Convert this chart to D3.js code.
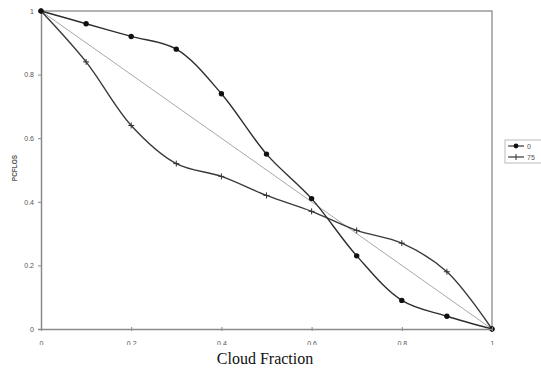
<!DOCTYPE html>
<html>
<head>
<meta charset="utf-8">
<script src="https://cdn.jsdelivr.net/npm/d3@7"></script>
<style>
  body { margin: 0; background: #fff; }
  .axis path, .axis line { stroke: #8a8a8a; }
  .axis text { fill: #555; font-family: Arial, "Liberation Sans", sans-serif; font-size: 7px; }
</style>
</head>
<body>
<div id="chart"></div>
<script>
// cloud fraction along x, PCFLOS for each series
var cloudFraction = [0, 0.1, 0.2, 0.3, 0.4, 0.5, 0.6, 0.7, 0.8, 0.9, 1];
var series0 = [1, 0.96, 0.92, 0.88, 0.74, 0.55, 0.41, 0.23, 0.09, 0.04, 0];
var series75 = [1, 0.84, 0.64, 0.52, 0.48, 0.42, 0.37, 0.31, 0.27, 0.18, 0];
var diagonal = [1, 0];
var xTicks = [0, 0.2, 0.4, 0.6, 0.8, 1];
var yTicks = [0, 0.2, 0.4, 0.6, 0.8, 1];
var seriesNames = ['0', '75'];

var W = 541, H = 372;
var margin = { top: 11, right: 49, bottom: 43, left: 41 },
  w = W - margin.left - margin.right,
  h = H - margin.top - margin.bottom;

var x = d3.scaleLinear().domain([0, 1]).range([0, w]);
var y = d3.scaleLinear().domain([0, 1]).range([h, 0]);
var fmt = function(d) { return d === 0 || d === 1 ? d : d3.format('.1f')(d); };

var root = d3.select('#chart').append('svg')
  .attr('width', W)
  .attr('height', H);

// x tick labels are cut off in the original scan
root.append('clipPath').attr('id', 'cut')
  .append('rect').attr('x', 0).attr('y', 0).attr('width', W).attr('height', 345);

var svg = root.append('g')
  .attr('transform', 'translate(' + margin.left + ',' + margin.top + ')');

// frame top and right
svg.append('path')
  .attr('d', 'M0,0H' + w + 'V' + h)
  .attr('fill', 'none')
  .attr('stroke', '#9a9a9a')
  .attr('stroke-width', 1.5);

// y axis
svg.append('g')
  .attr('class', 'axis')
  .call(d3.axisLeft(y).tickValues(yTicks).tickSize(3).tickPadding(4).tickFormat(fmt))
  .call(function(g) { g.select('.domain').attr('stroke-width', 1.5); });

// x axis, inside the clipped group
var xg = root.append('g')
  .attr('clip-path', 'url(#cut)')
  .append('g')
  .attr('class', 'axis')
  .attr('transform', 'translate(' + margin.left + ',' + (margin.top + h) + ')')
  .call(d3.axisBottom(x).tickValues(xTicks).tickSizeInner(3).tickSizeOuter(0).tickPadding(9).tickFormat(fmt));
xg.select('.domain').attr('stroke-width', 1.5);
xg.selectAll('.tick line').attr('y1', -2).attr('y2', 2);

// axis titles
svg.append('text')
  .attr('transform', 'translate(-24,' + (h / 2 - 2) + ') rotate(-90)')
  .attr('text-anchor', 'middle')
  .attr('font-family', 'Arial, "Liberation Sans", sans-serif')
  .attr('font-size', '6.5px')
  .attr('font-weight', 'bold')
  .attr('fill', '#555')
  .text('PCFLOS');

root.append('text')
  .attr('x', 265)
  .attr('y', 364)
  .attr('text-anchor', 'middle')
  .attr('font-family', '"Liberation Serif", "Times New Roman", serif')
  .attr('font-size', '16px')
  .attr('fill', '#111')
  .text('Cloud Fraction');

// straight reference line
svg.append('path')
  .datum(diagonal)
  .attr('fill', 'none')
  .attr('stroke', '#a8a8a8')
  .attr('stroke-width', 1)
  .attr('d', d3.line()
    .x(function(d, i) { return x(i); })
    .y(function(d) { return y(d); }));

var line = d3.line()
  .curve(d3.curveCatmullRom.alpha(0.5))
  .x(function(d, i) { return x(cloudFraction[i]); })
  .y(function(d) { return y(d); });

// series 75 with plus markers
svg.append('path')
  .datum(series75)
  .attr('fill', 'none')
  .attr('stroke', '#3a3a3a')
  .attr('stroke-width', 1.4)
  .attr('d', line);
svg.selectAll('.plus')
  .data(series75)
  .enter().append('path')
  .attr('class', 'plus')
  .attr('transform', function(d, i) { return 'translate(' + x(cloudFraction[i]) + ',' + y(d) + ')'; })
  .attr('d', 'M-3,0H3M0,-3V3')
  .attr('stroke', '#333')
  .attr('stroke-width', 1);

// series 0 with dot markers
svg.append('path')
  .datum(series0)
  .attr('fill', 'none')
  .attr('stroke', '#2e2e2e')
  .attr('stroke-width', 1.4)
  .attr('d', line);
svg.selectAll('.dot')
  .data(series0)
  .enter().append('circle')
  .attr('class', 'dot')
  .attr('cx', function(d, i) { return x(cloudFraction[i]); })
  .attr('cy', function(d) { return y(d); })
  .attr('r', 2.7)
  .attr('fill', '#111');

// legend
var lg = root.append('g').attr('transform', 'translate(505,140)');
lg.append('rect')
  .attr('width', 40).attr('height', 23)
  .attr('fill', '#fff')
  .attr('stroke', '#bbb')
  .attr('stroke-width', 1);
seriesNames.forEach(function(name, i) {
  var row = lg.append('g').attr('transform', 'translate(0,' + (6 + i * 11) + ')');
  row.append('line').attr('x1', 3).attr('x2', 19)
    .attr('stroke', '#333').attr('stroke-width', 1.2);
  if (i === 0) {
    row.append('circle').attr('cx', 11).attr('r', 2.4).attr('fill', '#111');
  } else {
    row.append('path').attr('d', 'M11,-3V3').attr('stroke', '#333');
  }
  row.append('text')
    .attr('x', 22).attr('y', 2.5)
    .attr('font-family', 'Arial, "Liberation Sans", sans-serif')
    .attr('font-size', '7px')
    .attr('fill', '#555')
    .text(name);
});
</script>
</body>
</html>
